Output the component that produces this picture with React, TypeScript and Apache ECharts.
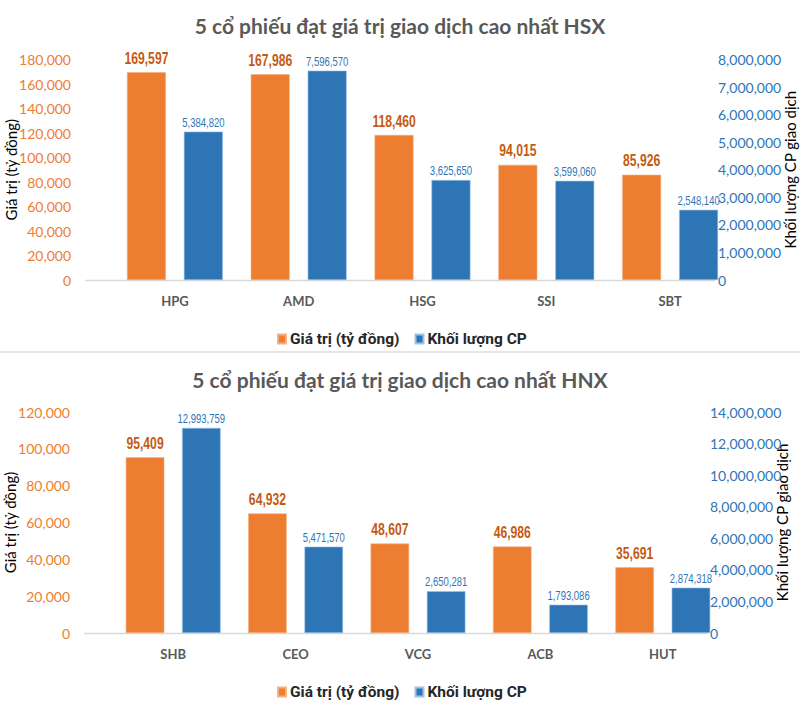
import React, { useEffect, useRef } from "react";
import * as echarts from "echarts";

const hsxCategories = ["HPG", "AMD", "HSG", "SSI", "SBT"];
const hsxValue = [169597, 167986, 118460, 94015, 85926];
const hsxVolume = [5384820, 7596570, 3625650, 3599060, 2548140];

const hnxCategories = ["SHB", "CEO", "VCG", "ACB", "HUT"];
const hnxValue = [95409, 64932, 48607, 46986, 35691];
const hnxVolume = [12993759, 5471570, 2650281, 1793086, 2874318];

const titles = [
  "5 cổ phiếu đạt giá trị giao dịch cao nhất HSX",
  "5 cổ phiếu đạt giá trị giao dịch cao nhất HNX",
];
const seriesNames = ["Giá trị (tỷ đồng)", "Khối lượng CP"];
const leftAxisName = "Giá trị (tỷ đồng)";
const rightAxisName = "Khối lượng CP giao dịch";

const ORANGE = "#ED7D31";
const BLUE = "#2E75B6";
const MAIN = "Lato, 'Open Sans', sans-serif";
const ARIAL = "'Liberation Sans', Arial, sans-serif";

const fmt = (v: number) => v.toLocaleString("en-US");

const BAR_W = 0.315;
const BAR_GAP = 0.46;
const OFFSET = (BAR_W * (1 + BAR_GAP)) / 2;

function labelSeries(
  xi: number,
  yi: number,
  values: number[],
  side: number,
  color: string,
  size: number,
  weight: string,
  dist: number,
  sx: number
) {
  return {
    type: "custom",
    xAxisIndex: xi,
    yAxisIndex: yi,
    z: 5,
    silent: true,
    clip: false,
    data: values.map((v, i) => [i, v]),
    renderItem: (params: any, api: any) => {
      const idx = api.value(0);
      const v = api.value(1);
      const pt = api.coord([idx, v]);
      const bw = api.size([1, 0])[0];
      return {
        type: "text",
        x: pt[0] + side * OFFSET * bw,
        y: pt[1] - dist,
        scaleX: sx,
        style: {
          text: fmt(v),
          x: 0,
          y: 0,
          align: "center",
          verticalAlign: "bottom",
          fill: color,
          font: `${weight} ${size}px ${ARIAL}`,
        },
      };
    },
  };
}

export default function App() {
  const ref = useRef<HTMLDivElement>(null);
  useEffect(() => {
    const chart = echarts.init(ref.current!, undefined, { renderer: "svg" });
    const grids = [
      { left: 113, right: 68, top: 59.5, height: 220.5, outerBoundsMode: "none", containLabel: false },
      { left: 112, right: 76, top: 412, height: 221, outerBoundsMode: "none", containLabel: false },
    ];
    const rightOffset = [-15, -15];
    const cats = [hsxCategories, hnxCategories];
    const vals = [hsxValue, hnxValue];
    const vols = [hsxVolume, hnxVolume];
    const leftMax = [180000, 120000];
    const rightMax = [8000000, 14000000];
    const rightInt = [1000000, 2000000];

    const xAxis: any[] = [];
    const yAxis: any[] = [];
    const series: any[] = [];
    for (let i = 0; i < 2; i++) {
      xAxis.push({
        type: "category",
        gridIndex: i,
        data: cats[i],
        axisLine: { show: false },
        axisTick: { show: false },
        axisLabel: {
          color: "#595959",
          fontWeight: "bold",
          fontSize: 13,
          fontFamily: MAIN,
          margin: 14,
        },
      });
      yAxis.push({
        type: "value",
        gridIndex: i,
        min: 0,
        max: leftMax[i],
        interval: 20000,
        name: leftAxisName,
        nameLocation: "middle",
        nameRotate: 90,
        nameGap: 95,
        nameMoveOverlap: false,
        nameTextStyle: { color: "#000", fontSize: 15, fontFamily: MAIN },
        axisLine: { show: false },
        axisTick: { show: false },
        splitLine: { show: false },
        axisLabel: {
          color: ORANGE,
          fontSize: 14,
          fontFamily: MAIN,
          margin: 42,
          formatter: (v: number) => fmt(v),
        },
      });
      yAxis.push({
        type: "value",
        gridIndex: i,
        position: "right",
        offset: rightOffset[i],
        min: 0,
        max: rightMax[i],
        interval: rightInt[i],
        name: rightAxisName,
        nameLocation: "middle",
        nameRotate: 90,
        nameGap: 65,
        nameMoveOverlap: false,
        nameTextStyle: { color: "#000", fontSize: 15, fontFamily: MAIN },
        axisLine: { show: false },
        axisTick: { show: false },
        splitLine: { show: false },
        axisLabel: {
          color: BLUE,
          fontSize: 14,
          fontFamily: MAIN,
          margin: 1,
          formatter: (v: number) => fmt(v),
        },
      });
      series.push({
        name: seriesNames[0],
        type: "bar",
        xAxisIndex: i,
        yAxisIndex: i * 2,
        data: vals[i],
        barWidth: BAR_W * 100 + "%",
        barGap: BAR_GAP * 100 + "%",
        itemStyle: { color: ORANGE, borderColor: "#F4B183", borderWidth: 0.6 },
      });
      series.push({
        name: seriesNames[1],
        type: "bar",
        xAxisIndex: i,
        yAxisIndex: i * 2 + 1,
        data: vols[i],
        barWidth: BAR_W * 100 + "%",
        barGap: BAR_GAP * 100 + "%",
        itemStyle: { color: BLUE, borderColor: "#9DC3E6", borderWidth: 0.6 },
      });
      series.push(labelSeries(i, i * 2, vals[i], -1, "#C55A11", 16, "bold", 6, 0.76));
      series.push(labelSeries(i, i * 2 + 1, vols[i], 1, BLUE, 12.5, "normal", 3, 0.76));
    }

    const legendBase = {
      data: seriesNames,
      icon: "rect",
      itemWidth: 8,
      itemHeight: 9,
      itemGap: 15,
      left: 272,
      textStyle: { color: "#262626", fontSize: 15.5, fontFamily: "Roboto, sans-serif", fontWeight: "bold", padding: [0, 0, 0, -1] },
      selectedMode: false,
    };

    chart.setOption({
      animation: false,
      backgroundColor: "#fff",
      title: [
        {
          text: titles[0],
          left: "center",
          top: 10,
          textStyle: { color: "#595959", fontSize: 21, fontWeight: "bold", fontFamily: MAIN },
        },
        {
          text: titles[1],
          left: "center",
          top: 364,
          textStyle: { color: "#595959", fontSize: 21, fontWeight: "bold", fontFamily: MAIN },
        },
      ],
      legend: [
        { ...legendBase, top: 326 },
        { ...legendBase, top: 679 },
      ],
      grid: grids,
      xAxis,
      yAxis,
      series,
      graphic: [
        {
          type: "rect",
          shape: { x: 0, y: 351, width: 800, height: 2 },
          style: { fill: "#E6E6E6" },
          silent: true,
        },
        {
          type: "line",
          shape: { x1: 85, y1: 280.5, x2: 715, y2: 280.5 },
          style: { stroke: "#D9D9D9", lineWidth: 1.5 },
          silent: true,
        },
        {
          type: "line",
          shape: { x1: 84, y1: 633.5, x2: 708, y2: 633.5 },
          style: { stroke: "#D9D9D9", lineWidth: 1.5 },
          silent: true,
        },
      ],
    });
    return () => chart.dispose();
  }, []);
  return (
    <div
      ref={ref}
      style={{ position: "absolute", left: 0, top: 0, width: 800, height: 724 }}
    />
  );
}
